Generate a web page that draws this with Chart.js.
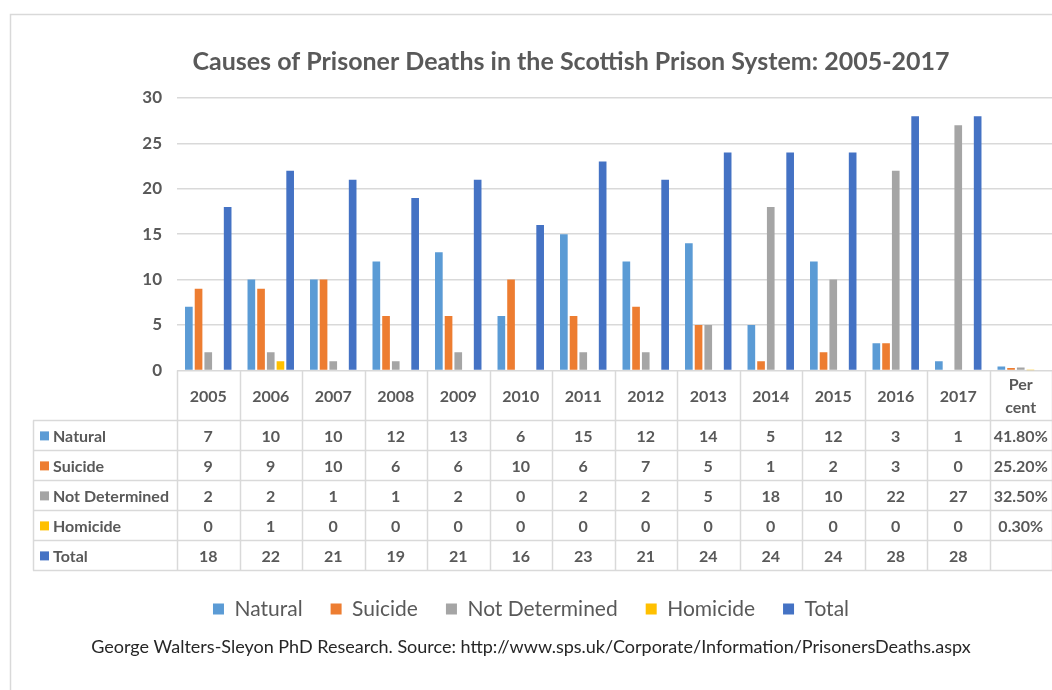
<!DOCTYPE html>
<html>
<head>
<meta charset="utf-8">
<script src="https://cdn.jsdelivr.net/npm/chart.js@4.4.1/dist/chart.umd.min.js"></script>
<style>
  html, body { margin: 0; padding: 0; background: #fff; }
  #wrap { width: 1052px; height: 690px; position: relative; }
</style>
</head>
<body>
<div id="wrap"><canvas id="deaths"></canvas></div>
<script>
// categories: 13 years and the "Per cent" column of the data table
var years = ['2005', '2006', '2007', '2008', '2009', '2010', '2011', '2012', '2013', '2014', '2015', '2016', '2017', 'Per cent'];

var natural       = [7, 10, 10, 12, 13, 6, 15, 12, 14, 5, 12, 3, 1];
var suicide       = [9, 9, 10, 6, 6, 10, 6, 7, 5, 1, 2, 3, 0];
var notDetermined = [2, 2, 1, 1, 2, 0, 2, 2, 5, 18, 10, 22, 27];
var homicide      = [0, 1, 0, 0, 0, 0, 0, 0, 0, 0, 0, 0, 0];
var total         = [18, 22, 21, 19, 21, 16, 23, 21, 24, 24, 24, 28, 28];

// share of all deaths, last column (Total has none)
var percent = { natural: 0.418, suicide: 0.252, notDetermined: 0.325, homicide: 0.003 };

var yTicks = [0, 5, 10, 15, 20, 25, 30];

var TITLE = 'Causes of Prisoner Deaths in the Scottish Prison System: 2005-2017';
var FONT = 'Lato, "Open Sans", sans-serif';
var TEXT = '#595959';
var LINE = '#d9d9d9';

var colors = {
    natural: '#5b9bd5',
    suicide: '#ed7d31',
    notDetermined: '#a5a5a5',
    homicide: '#ffc000',
    total: '#4472c4'
};

function series(label, values, pct, color) {
    return {
        label: label,
        data: values.concat([pct]),
        backgroundColor: color,
        borderWidth: 0,
        categoryPercentage: 0.776,
        barPercentage: 0.79
    };
}

// white page, thin frame round the chart, and the title
// (the original chart is cropped on the right, so its title sits right of the page centre)
var framePlugin = {
    id: 'frame',
    beforeDraw: function (chart) {
        var ctx = chart.ctx;
        ctx.save();
        ctx.fillStyle = '#fff';
        ctx.fillRect(0, 0, chart.width, chart.height);
        ctx.strokeStyle = LINE;
        ctx.lineWidth = 1.5;
        ctx.strokeRect(10.5, 14.5, chart.width + 20, chart.height + 20);
        ctx.fillStyle = TEXT;
        ctx.font = 'bold 25px ' + FONT;
        ctx.textAlign = 'center';
        ctx.textBaseline = 'middle';
        ctx.fillText(TITLE, 571, 62);
        ctx.restore();
    }
};

// Excel style data table under the plot area
var tablePlugin = {
    id: 'dataTable',
    afterDraw: function (chart) {
        var ctx = chart.ctx;
        var xs = chart.scales.x;
        var area = chart.chartArea;
        var n = years.length;
        var colW = (area.right - area.left) / n;
        var top = area.bottom;
        var headH = 50;
        var rowH = 30;
        var sets = chart.data.datasets;
        var tableLeft = 33;
        var bottom = top + headH + rowH * sets.length;

        ctx.save();
        ctx.strokeStyle = LINE;
        ctx.lineWidth = 1.5;
        ctx.beginPath();
        // column separators
        for (var c = 0; c <= n; c++) {
            var x = Math.round(area.left + c * colW) + 0.5;
            ctx.moveTo(x, top);
            ctx.lineTo(x, bottom);
        }
        // row separators
        for (var r = 0; r <= sets.length; r++) {
            var y = Math.round(top + headH + r * rowH) + 0.5;
            ctx.moveTo(tableLeft, y);
            ctx.lineTo(area.right, y);
        }
        ctx.moveTo(tableLeft + 0.5, top + headH);
        ctx.lineTo(tableLeft + 0.5, bottom);
        ctx.stroke();

        ctx.fillStyle = TEXT;
        ctx.font = 'bold 16px ' + FONT;
        ctx.textAlign = 'center';
        ctx.textBaseline = 'middle';
        years.forEach(function (lab, i) {
            var cx = xs.getPixelForValue(i);
            var parts = lab.split(' ');
            if (parts.length > 1) {
                ctx.fillText(parts[0], cx, top + 14);
                ctx.fillText(parts[1], cx, top + 37);
            } else {
                ctx.fillText(lab, cx, top + 26);
            }
        });

        sets.forEach(function (ds, r) {
            var cy = top + headH + r * rowH + rowH / 2 + 1;
            ctx.fillStyle = ds.backgroundColor;
            ctx.fillRect(tableLeft + 7, cy - 5, 9, 9);
            ctx.fillStyle = TEXT;
            ctx.textAlign = 'left';
            ctx.fillText(ds.label, tableLeft + 20, cy);
            ctx.textAlign = 'center';
            ds.data.forEach(function (v, i) {
                if (v === null || v === undefined) return;
                var txt = i === n - 1 ? (v * 100).toFixed(2) + '%' : String(v);
                ctx.fillText(txt, xs.getPixelForValue(i), cy);
            });
        });
        ctx.restore();
    }
};

var ctx = document.getElementById('deaths').getContext('2d');
var chart = new Chart(ctx, {
    type: 'bar',
    data: {
        labels: years,
        datasets: [
            series('Natural', natural, percent.natural, colors.natural),
            series('Suicide', suicide, percent.suicide, colors.suicide),
            series('Not Determined', notDetermined, percent.notDetermined, colors.notDetermined),
            series('Homicide', homicide, percent.homicide, colors.homicide),
            series('Total', total, null, colors.total)
        ]
    },
    options: {
        responsive: true,
        maintainAspectRatio: false,
        animation: false,
        layout: { padding: { left: 10, right: 0, top: 98, bottom: 32 } },
        scales: {
            x: {
                grid: { display: false },
                border: { display: false },
                ticks: { display: false },
                afterFit: function (scale) { scale.height = 200; }
            },
            y: {
                min: 0,
                max: 30,
                afterBuildTicks: function (scale) {
                    scale.ticks = yTicks.map(function (v) { return { value: v }; });
                },
                afterFit: function (scale) { scale.width = 167; },
                grid: { color: LINE, lineWidth: 1.5, drawTicks: false },
                border: { display: false },
                ticks: {
                    color: TEXT,
                    padding: 15,
                    font: { family: FONT, size: 17, weight: 'bold' }
                }
            }
        },
        plugins: {
            title: { display: false },
            legend: {
                position: 'bottom',
                labels: {
                    color: TEXT,
                    boxWidth: 11,
                    boxHeight: 11,
                    padding: 28,
                    font: { family: FONT, size: 21 }
                }
            },
            subtitle: {
                display: true,
                position: 'bottom',
                text: 'George Walters-Sleyon PhD Research. Source: http://www.sps.uk/Corporate/Information/PrisonersDeaths.aspx',
                color: '#262626',
                font: { family: FONT, size: 18 },
                padding: { top: 7, bottom: 0 }
            },
            tooltip: { enabled: false }
        }
    },
    plugins: [framePlugin, tablePlugin]
});
</script>
</body>
</html>
